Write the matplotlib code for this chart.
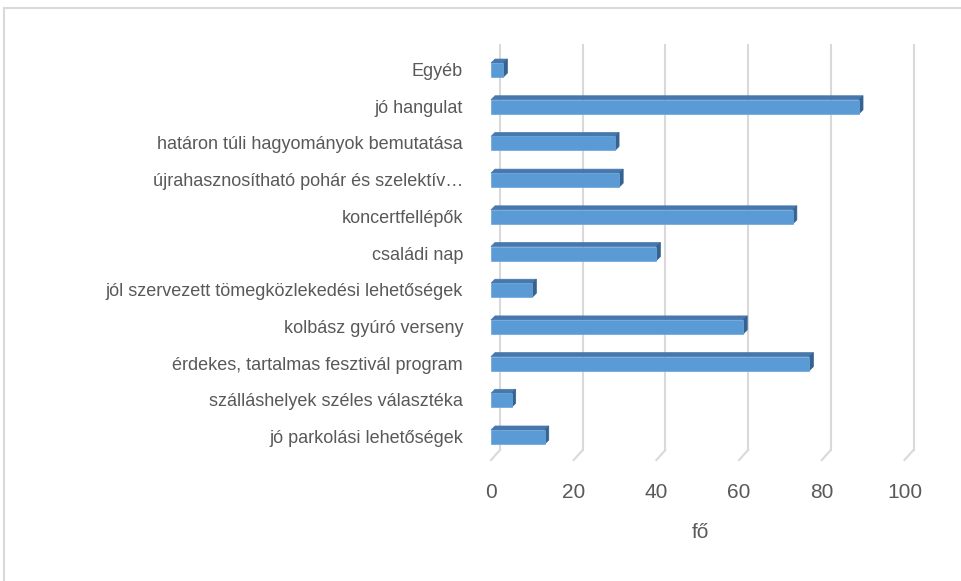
import matplotlib
matplotlib.use("Agg")
import matplotlib.pyplot as plt
from matplotlib.patches import Polygon, Rectangle

# categories bottom -> top
categories = ["jó parkolási lehetőségek",
              "szálláshelyek széles választéka",
              "érdekes, tartalmas fesztivál program",
              "kolbász gyúró verseny",
              "jól szervezett tömegközlekedési lehetőségek",
              "családi nap",
              "koncertfellépők",
              "újrahasznosítható pohár és szelektív…",
              "határon túli hagyományok bemutatása",
              "jó hangulat",
              "Egyéb"]
values = [13, 5, 77, 61, 10, 40, 73, 31, 30, 89, 3]
ticks = [0, 20, 40, 60, 80, 100]

W, H = 961, 581
PX_X = 4.135   # pixels per unit
PX_Y = 36.7    # pixels per category

FRONT = "#5b9bd5"
TOP = "#4778ad"
SIDE = "#36628f"
GRID = "#d9d9d9"
TXT = "#595959"
FONT = ["Liberation Sans", "DejaVu Sans"]

fig = plt.figure(figsize=(W / 100, H / 100), dpi=100)
x0, y_floor, y_top = 491, 460, 55
ylo, yhi = -0.627, 10.41
ax = fig.add_axes([x0 / W, (H - y_floor) / H, 100 * PX_X / W, (y_floor - y_top) / H])
ax.set_xlim(0, 100)
ax.set_ylim(ylo, yhi)
ax.axis("off")

# chart border
fig.patches.append(Rectangle((4 / W, -0.05), 1.2, 1.05 - 8 / H, transform=fig.transFigure,
                             fill=False, edgecolor="#d9d9d9", linewidth=1.5))

# depth offsets (data units)
gdx, gdy = 9 / PX_X, 10 / PX_Y
bdx, bdy = 4 / PX_X, 4 / PX_Y
bh = 14 / PX_Y

for t in ticks:
    ax.plot([t + gdx, t + gdx], [ylo + gdy, yhi + gdy], color=GRID, lw=1.5, clip_on=False, zorder=1)
    ax.plot([t, t + gdx], [ylo, ylo + gdy], color=GRID, lw=1.5, clip_on=False, zorder=1)
    ax.text(t, ylo - 33 / PX_Y, str(t), ha="center", va="center", fontsize=15,
            color=TXT, family=FONT)

for i, v in enumerate(values):
    yb, yt = i - bh / 2, i + bh / 2
    ax.add_patch(Polygon([(0, yt), (v, yt), (v + bdx, yt + bdy), (bdx, yt + bdy)],
                         closed=True, facecolor=TOP, edgecolor=TOP, lw=0.5, zorder=3, clip_on=False))
    ax.add_patch(Polygon([(v, yb), (v + bdx, yb + bdy), (v + bdx, yt + bdy), (v, yt)],
                         closed=True, facecolor=SIDE, edgecolor=SIDE, lw=0.5, zorder=3, clip_on=False))
    ax.add_patch(Rectangle((0, yb), v, bh, facecolor=FRONT, edgecolor="#6aa5dc", lw=0.5,
                           zorder=4, clip_on=False))
    ax.text(-28 / PX_X, i - 1.5 / PX_Y, categories[i], ha="right", va="center", fontsize=13,
            color=TXT, family=FONT)

ax.text(209 / PX_X, ylo - 73 / PX_Y, "fő", ha="center", va="center",
        fontsize=15, color=TXT, family=FONT)

fig.savefig("out.png", dpi=100)
